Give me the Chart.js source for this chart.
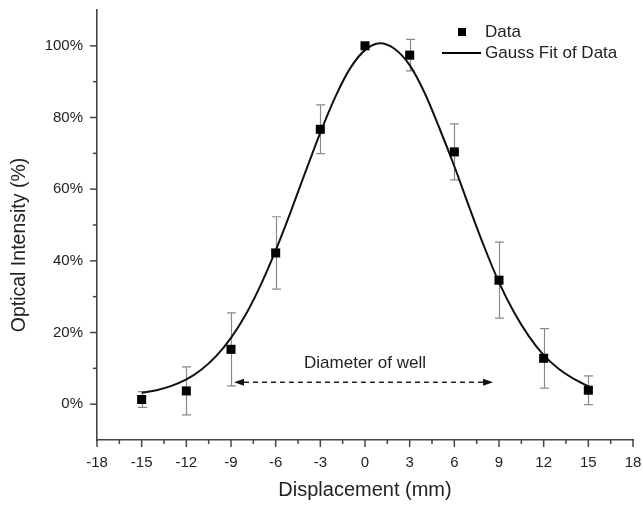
<!DOCTYPE html>
<html><head><meta charset="utf-8">
<script src="https://cdn.jsdelivr.net/npm/chart.js@4/dist/chart.umd.min.js"></script>
<style>html,body{margin:0;padding:0;background:#fff}#wrap{width:643px;height:506px}</style>
</head><body><div id="wrap"><canvas id="c" width="643" height="506"></canvas></div>
<script>
// ---- data ----
const displacement = [-15, -12, -9, -6, -3, 0, 3, 6, 9, 12, 15];
const intensity    = [1.3, 3.7, 15.3, 42.2, 76.7, 100, 97.4, 70.4, 34.6, 12.8, 3.9];
const intensityErr = [2.2, 6.7, 10.2, 10.1, 6.8, 0, 4.4, 7.8, 10.6, 8.3, 4.0];
const fitX = [-15,-14,-13,-12,-11,-10,-9,-8,-7,-6,-5,-4,-3,-2,-1,0,1,2,3,4,5,6,7,8,9,10,11,12,13,14,15];
const fitY = [3.2,3.9,5.1,6.9,9.6,13.4,18.5,25.1,33.3,42.9,53.6,64.8,75.8,85.7,93.7,98.8,100.7,99.1,94.6,86.9,77.0,66.4,55.0,44.0,34.0,25.7,19.0,13.7,9.9,7.1,5.0];
const xTickValues = [-18,-15,-12,-9,-6,-3,0,3,6,9,12,15,18];
const yTickValues = [0,20,40,60,80,100];
const seriesLabels = ['Data', 'Gauss Fit of Data'];
const annotationText = 'Diameter of well';
const annotationArrow = {from: -8.8, to: 8.6, y: 6.1, textX: 0, textY: 10};

const FONT = '"Liberation Sans", Arial, Helvetica, sans-serif';
const TXT = '#222';
const AXIS = '#444';
Chart.defaults.font.family = FONT;
Chart.defaults.color = TXT;

const errorBars = {
  id: 'errorBars',
  beforeDatasetsDraw(chart) {
    const {ctx, scales: {x, y}} = chart;
    ctx.save();
    ctx.strokeStyle = '#8a8a8a';
    ctx.lineWidth = 1.2;
    displacement.forEach((d, i) => {
      if (!intensityErr[i]) return;
      const px = Math.round(x.getPixelForValue(d)) + 0.5;
      const t = y.getPixelForValue(intensity[i] + intensityErr[i]);
      const b = y.getPixelForValue(intensity[i] - intensityErr[i]);
      ctx.beginPath();
      ctx.moveTo(px, t); ctx.lineTo(px, b);
      ctx.moveTo(px - 4.5, t); ctx.lineTo(px + 4.5, t);
      ctx.moveTo(px - 4.5, b); ctx.lineTo(px + 4.5, b);
      ctx.stroke();
    });
    ctx.restore();
  }
};

const tickMarks = {
  id: 'tickMarks',
  afterDraw(chart) {
    const {ctx, scales: {x, y}, chartArea: a} = chart;
    ctx.save();
    ctx.strokeStyle = AXIS;
    ctx.lineWidth = 1.5;
    for (let i = 0; i < xTickValues.length; i++) {
      const v = xTickValues[i];
      let px = x.getPixelForValue(v);
      ctx.beginPath(); ctx.moveTo(px, a.bottom); ctx.lineTo(px, a.bottom + 7); ctx.stroke();
      if (i < xTickValues.length - 1) {
        px = x.getPixelForValue((v + xTickValues[i + 1]) / 2);
        ctx.beginPath(); ctx.moveTo(px, a.bottom); ctx.lineTo(px, a.bottom + 4); ctx.stroke();
      }
    }
    for (let i = 0; i < yTickValues.length; i++) {
      const v = yTickValues[i];
      let py = y.getPixelForValue(v);
      ctx.beginPath(); ctx.moveTo(a.left, py); ctx.lineTo(a.left - 7, py); ctx.stroke();
      if (i < yTickValues.length - 1) {
        py = y.getPixelForValue((v + yTickValues[i + 1]) / 2);
        ctx.beginPath(); ctx.moveTo(a.left, py); ctx.lineTo(a.left - 4, py); ctx.stroke();
      }
    }
    // y axis title
    ctx.fillStyle = TXT;
    ctx.font = '19.5px ' + FONT;
    ctx.textAlign = 'center';
    ctx.textBaseline = 'middle';
    ctx.translate(20, 245);
    ctx.rotate(-Math.PI / 2);
    ctx.fillText('Optical Intensity (%)', 0, 0);
    ctx.restore();
  }
};

const legendBox = {
  id: 'legendBox',
  afterDraw(chart) {
    const {ctx} = chart;
    ctx.save();
    ctx.fillStyle = '#000';
    ctx.fillRect(458, 28, 8, 8);
    ctx.strokeStyle = '#000';
    ctx.lineWidth = 2;
    ctx.beginPath(); ctx.moveTo(442, 53); ctx.lineTo(481, 53); ctx.stroke();
    ctx.fillStyle = TXT;
    ctx.font = '17px ' + FONT;
    ctx.textAlign = 'left';
    ctx.textBaseline = 'middle';
    ctx.fillText(chart.data.datasets[0].label, 485, 32);
    ctx.fillText(chart.data.datasets[1].label, 485, 53);
    ctx.restore();
  }
};

const diameterArrow = {
  id: 'diameterArrow',
  afterDatasetsDraw(chart) {
    const {ctx, scales: {x, y}} = chart;
    const x1 = x.getPixelForValue(annotationArrow.from);
    const x2 = x.getPixelForValue(annotationArrow.to);
    const py = y.getPixelForValue(annotationArrow.y);
    const hl = 10, hw = 3.5;
    ctx.save();
    ctx.strokeStyle = '#222';
    ctx.fillStyle = '#111';
    ctx.lineWidth = 1.4;
    ctx.setLineDash([5, 4]);
    ctx.beginPath(); ctx.moveTo(x1 + hl, py); ctx.lineTo(x2 - hl, py); ctx.stroke();
    ctx.setLineDash([]);
    ctx.beginPath(); ctx.moveTo(x1, py); ctx.lineTo(x1 + hl, py - hw); ctx.lineTo(x1 + hl, py + hw); ctx.closePath(); ctx.fill();
    ctx.beginPath(); ctx.moveTo(x2, py); ctx.lineTo(x2 - hl, py - hw); ctx.lineTo(x2 - hl, py + hw); ctx.closePath(); ctx.fill();
    ctx.fillStyle = TXT;
    ctx.font = '17px ' + FONT;
    ctx.textAlign = 'center';
    ctx.textBaseline = 'alphabetic';
    ctx.fillText(annotationText, x.getPixelForValue(annotationArrow.textX), y.getPixelForValue(annotationArrow.textY));
    ctx.restore();
  }
};

new Chart(document.getElementById('c'), {
  data: {
    datasets: [
      {
        type: 'scatter',
        label: seriesLabels[0],
        data: displacement.map((d, i) => ({x: d, y: intensity[i]})),
        pointStyle: 'rect',
        pointRadius: 6.4,
        pointBorderWidth: 0,
        backgroundColor: '#000',
        borderColor: '#000'
      },
      {
        type: 'line',
        label: seriesLabels[1],
        data: fitX.map((d, i) => ({x: d, y: fitY[i]})),
        borderColor: '#111',
        borderWidth: 2,
        pointRadius: 0,
        tension: 0.4,
        cubicInterpolationMode: 'monotone',
        fill: false
      }
    ]
  },
  options: {
    responsive: false,
    devicePixelRatio: 1,
    animation: false,
    layout: {padding: {top: 10, right: 10, left: 0, bottom: 0}},
    plugins: {legend: {display: false}, tooltip: {enabled: false}},
    scales: {
      x: {
        type: 'linear', min: -18, max: 18,
        afterBuildTicks: s => { s.ticks = xTickValues.map(v => ({value: v})); },
        afterFit: s => { s.height = 66; s.paddingLeft = 0; s.paddingRight = 0; },
        ticks: {font: {size: 15}, color: TXT, padding: 14, maxRotation: 0, autoSkip: false},
        grid: {display: false, drawTicks: false},
        border: {display: true, color: AXIS, width: 1.6},
        title: {display: true, text: 'Displacement (mm)', color: TXT, font: {size: 20}, padding: {top: 0, bottom: 4}}
      },
      y: {
        type: 'linear', min: -10, max: 110,
        afterBuildTicks: s => { s.ticks = yTickValues.map(v => ({value: v})); },
        afterFit: s => { s.width = 97; s.paddingTop = 0; s.paddingBottom = 0; },
        ticks: {font: {size: 15}, color: TXT, padding: 14, callback: v => v + '%'},
        grid: {display: false, drawTicks: false},
        border: {display: true, color: AXIS, width: 1.6},
        title: {display: false}
      }
    }
  },
  plugins: [errorBars, tickMarks, legendBox, diameterArrow]
});
</script>
</body></html>
